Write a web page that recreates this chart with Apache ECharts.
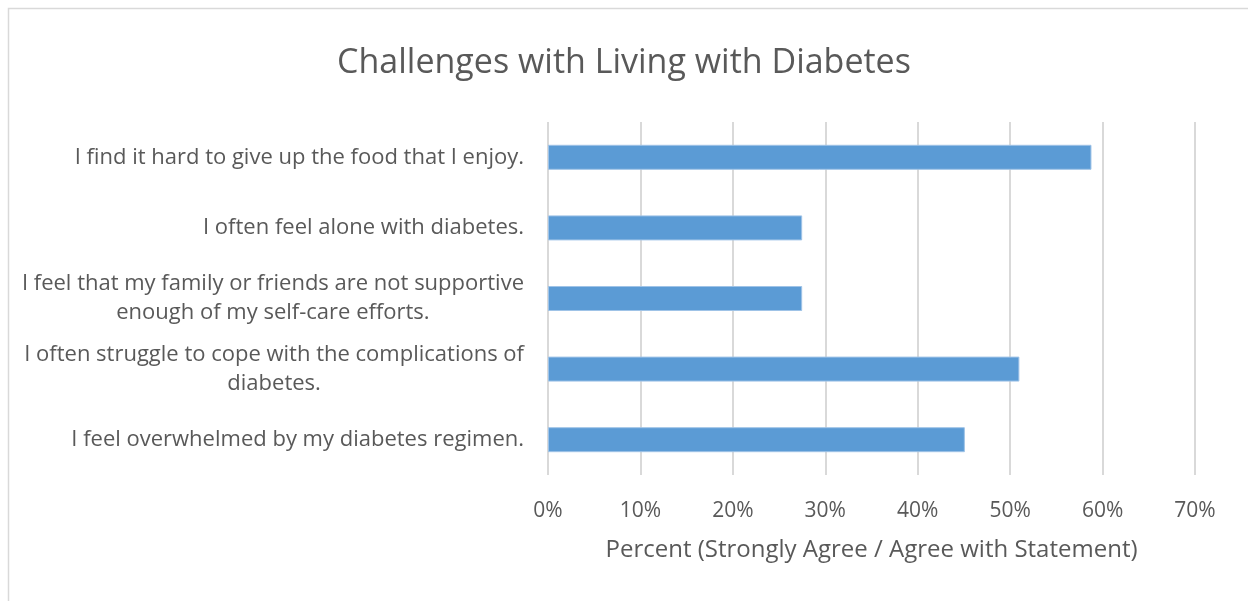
<!DOCTYPE html>
<html>
<head>
<meta charset="utf-8">
<script src="https://cdn.jsdelivr.net/npm/echarts@6/dist/echarts.min.js"></script>
<style>
  html, body { margin: 0; padding: 0; background: #ffffff; }
  #chart { width: 1248px; height: 601px; }
</style>
</head>
<body>
<div id="chart"></div>
<script>
// Survey statements (top to bottom) and share who agree / strongly agree (%)
const statements = [
  'I find it hard to give up the food that I enjoy.',
  'I often feel alone with diabetes.',
  'I feel that my family or friends are not supportive\nenough of my self-care efforts.',
  'I often struggle to cope with the complications of\ndiabetes.',
  'I feel overwhelmed by my diabetes regimen.'
];
const agreePercent = [58.8, 27.5, 27.5, 51.0, 45.1];

const chartTitle = 'Challenges with Living with Diabetes';
const xAxisTitle = 'Percent (Strongly Agree / Agree with Statement)';

const FONT = '"Open Sans", Lato, sans-serif';
const TEXT = '#595959';

const chart = echarts.init(document.getElementById('chart'));
chart.setOption({
  backgroundColor: '#ffffff',
  animation: false,
  graphic: [{
    type: 'rect',
    shape: { x: 8.5, y: 8.5, width: 1260, height: 620 },
    style: { fill: 'none', stroke: '#d9d9d9', lineWidth: 1.5 },
    silent: true
  }],
  title: {
    text: chartTitle,
    left: 'center',
    top: 41,
    textStyle: { fontFamily: FONT, fontSize: 34, fontWeight: 'normal', color: TEXT }
  },
  grid: { left: 548, right: 53, top: 122, bottom: 126, containLabel: false },
  xAxis: {
    type: 'value',
    min: 0,
    max: 70,
    interval: 10,
    name: xAxisTitle,
    nameLocation: 'middle',
    nameGap: 63,
    nameTextStyle: { fontFamily: FONT, fontSize: 24, color: TEXT },
    axisLine: { show: false },
    axisTick: { show: false },
    axisLabel: {
      formatter: v => v + '%',
      margin: 26,
      fontFamily: FONT, fontSize: 21, color: TEXT
    },
    splitLine: { show: true, lineStyle: { color: '#d9d9d9', width: 2 } }
  },
  yAxis: {
    type: 'category',
    data: statements,
    inverse: true,
    axisLine: { show: false },
    axisTick: { show: false },
    axisLabel: {
      margin: 24,
      align: 'right',
      lineHeight: 29,
      formatter: v => v.split('\n').map(s => '{c|' + s + '}').join('\n'),
      rich: {
        c: { align: 'center', fontFamily: FONT, fontSize: 22, color: TEXT, lineHeight: 29 }
      }
    }
  },
  series: [{
    type: 'bar',
    data: agreePercent,
    barWidth: 25,
    itemStyle: { color: '#5b9bd5', borderColor: '#9fc3e7', borderWidth: 1 }
  }]
});
</script>
</body>
</html>
